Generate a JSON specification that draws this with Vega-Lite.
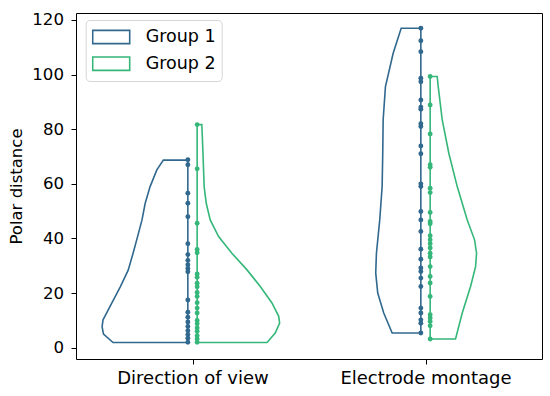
{
  "$schema": "https://vega.github.io/schema/vega-lite/v6.json",
  "width": 466,
  "height": 346,
  "autosize": {"type": "none"},
  "padding": {"left": 76, "top": 13, "right": 8, "bottom": 37},
  "background": "white",
  "config": {
    "font": "DejaVu Sans",
    "view": {"stroke": "#000000", "strokeWidth": 1},
    "axis": {"domain": false, "grid": false, "tickColor": "#000000", "tickSize": 5, "labelColor": "#000000", "labelPadding": 6, "titleColor": "#000000", "titleFontWeight": "normal"}
  },
  "datasets": {
    "outline": [
      {"v": "D1", "g": "Group 1", "o": 0, "x": -0.02, "y": 68.7},
      {"v": "D1", "g": "Group 1", "o": 1, "x": -0.125, "y": 68.7},
      {"v": "D1", "g": "Group 1", "o": 2, "x": -0.153, "y": 65.1},
      {"v": "D1", "g": "Group 1", "o": 3, "x": -0.182, "y": 59.0},
      {"v": "D1", "g": "Group 1", "o": 4, "x": -0.203, "y": 52.9},
      {"v": "D1", "g": "Group 1", "o": 5, "x": -0.217, "y": 46.7},
      {"v": "D1", "g": "Group 1", "o": 6, "x": -0.236, "y": 40.6},
      {"v": "D1", "g": "Group 1", "o": 7, "x": -0.255, "y": 34.6},
      {"v": "D1", "g": "Group 1", "o": 8, "x": -0.276, "y": 28.4},
      {"v": "D1", "g": "Group 1", "o": 9, "x": -0.310, "y": 22.3},
      {"v": "D1", "g": "Group 1", "o": 10, "x": -0.346, "y": 16.4},
      {"v": "D1", "g": "Group 1", "o": 11, "x": -0.370, "y": 12.5},
      {"v": "D1", "g": "Group 1", "o": 12, "x": -0.384, "y": 10.2},
      {"v": "D1", "g": "Group 1", "o": 13, "x": -0.388, "y": 7.7},
      {"v": "D1", "g": "Group 1", "o": 14, "x": -0.382, "y": 5.0},
      {"v": "D1", "g": "Group 1", "o": 15, "x": -0.341, "y": 1.9},
      {"v": "D1", "g": "Group 1", "o": 16, "x": -0.02, "y": 1.9},
      {"v": "D1", "g": "Group 1", "o": 17, "x": -0.02, "y": 68.7},
      {"v": "D2", "g": "Group 2", "o": 0, "x": 0.02, "y": 81.7},
      {"v": "D2", "g": "Group 2", "o": 1, "x": 0.040, "y": 81.7},
      {"v": "D2", "g": "Group 2", "o": 2, "x": 0.045, "y": 71.2},
      {"v": "D2", "g": "Group 2", "o": 3, "x": 0.050, "y": 59.0},
      {"v": "D2", "g": "Group 2", "o": 4, "x": 0.059, "y": 52.9},
      {"v": "D2", "g": "Group 2", "o": 5, "x": 0.076, "y": 46.8},
      {"v": "D2", "g": "Group 2", "o": 6, "x": 0.112, "y": 40.7},
      {"v": "D2", "g": "Group 2", "o": 7, "x": 0.169, "y": 34.6},
      {"v": "D2", "g": "Group 2", "o": 8, "x": 0.234, "y": 28.5},
      {"v": "D2", "g": "Group 2", "o": 9, "x": 0.291, "y": 22.4},
      {"v": "D2", "g": "Group 2", "o": 10, "x": 0.341, "y": 16.4},
      {"v": "D2", "g": "Group 2", "o": 11, "x": 0.370, "y": 11.5},
      {"v": "D2", "g": "Group 2", "o": 12, "x": 0.374, "y": 9.0},
      {"v": "D2", "g": "Group 2", "o": 13, "x": 0.355, "y": 5.4},
      {"v": "D2", "g": "Group 2", "o": 14, "x": 0.320, "y": 1.9},
      {"v": "D2", "g": "Group 2", "o": 15, "x": 0.02, "y": 1.9},
      {"v": "D2", "g": "Group 2", "o": 16, "x": 0.02, "y": 81.7},
      {"v": "E1", "g": "Group 1", "o": 0, "x": 0.98, "y": 117.0},
      {"v": "E1", "g": "Group 1", "o": 1, "x": 0.8956, "y": 117.0},
      {"v": "E1", "g": "Group 1", "o": 2, "x": 0.8612, "y": 107.8},
      {"v": "E1", "g": "Group 1", "o": 3, "x": 0.8281, "y": 95.6},
      {"v": "E1", "g": "Group 1", "o": 4, "x": 0.8182, "y": 83.4},
      {"v": "E1", "g": "Group 1", "o": 5, "x": 0.8165, "y": 71.2},
      {"v": "E1", "g": "Group 1", "o": 6, "x": 0.8139, "y": 59.0},
      {"v": "E1", "g": "Group 1", "o": 7, "x": 0.8036, "y": 46.8},
      {"v": "E1", "g": "Group 1", "o": 8, "x": 0.7894, "y": 34.6},
      {"v": "E1", "g": "Group 1", "o": 9, "x": 0.7864, "y": 27.3},
      {"v": "E1", "g": "Group 1", "o": 10, "x": 0.7950, "y": 20.0},
      {"v": "E1", "g": "Group 1", "o": 11, "x": 0.8208, "y": 12.7},
      {"v": "E1", "g": "Group 1", "o": 12, "x": 0.8569, "y": 5.4},
      {"v": "E1", "g": "Group 1", "o": 13, "x": 0.98, "y": 5.4},
      {"v": "E1", "g": "Group 1", "o": 14, "x": 0.98, "y": 117.0},
      {"v": "E2", "g": "Group 2", "o": 0, "x": 1.02, "y": 99.3},
      {"v": "E2", "g": "Group 2", "o": 1, "x": 1.0503, "y": 99.3},
      {"v": "E2", "g": "Group 2", "o": 2, "x": 1.0546, "y": 95.6},
      {"v": "E2", "g": "Group 2", "o": 3, "x": 1.0718, "y": 83.4},
      {"v": "E2", "g": "Group 2", "o": 4, "x": 1.1001, "y": 71.2},
      {"v": "E2", "g": "Group 2", "o": 5, "x": 1.1362, "y": 59.0},
      {"v": "E2", "g": "Group 2", "o": 6, "x": 1.1792, "y": 46.8},
      {"v": "E2", "g": "Group 2", "o": 7, "x": 1.2106, "y": 39.5},
      {"v": "E2", "g": "Group 2", "o": 8, "x": 1.2192, "y": 34.6},
      {"v": "E2", "g": "Group 2", "o": 9, "x": 1.2149, "y": 29.7},
      {"v": "E2", "g": "Group 2", "o": 10, "x": 1.1934, "y": 22.4},
      {"v": "E2", "g": "Group 2", "o": 11, "x": 1.1577, "y": 12.7},
      {"v": "E2", "g": "Group 2", "o": 12, "x": 1.1289, "y": 3.2},
      {"v": "E2", "g": "Group 2", "o": 13, "x": 1.02, "y": 3.2},
      {"v": "E2", "g": "Group 2", "o": 14, "x": 1.02, "y": 99.3}
    ],
    "points": [
      {"c": 0, "g": "Group 1", "y": 68.8}, {"c": 0, "g": "Group 1", "y": 67.0}, {"c": 0, "g": "Group 1", "y": 56.6}, {"c": 0, "g": "Group 1", "y": 52.9},
      {"c": 0, "g": "Group 1", "y": 48.0}, {"c": 0, "g": "Group 1", "y": 38.1}, {"c": 0, "g": "Group 1", "y": 34.1}, {"c": 0, "g": "Group 1", "y": 32.0},
      {"c": 0, "g": "Group 1", "y": 30.4}, {"c": 0, "g": "Group 1", "y": 29.0}, {"c": 0, "g": "Group 1", "y": 27.8}, {"c": 0, "g": "Group 1", "y": 17.5},
      {"c": 0, "g": "Group 1", "y": 13.0}, {"c": 0, "g": "Group 1", "y": 11.2}, {"c": 0, "g": "Group 1", "y": 9.4}, {"c": 0, "g": "Group 1", "y": 7.8},
      {"c": 0, "g": "Group 1", "y": 6.2}, {"c": 0, "g": "Group 1", "y": 4.8}, {"c": 0, "g": "Group 1", "y": 3.5}, {"c": 0, "g": "Group 1", "y": 2.0},
      {"c": 0, "g": "Group 2", "y": 81.7}, {"c": 0, "g": "Group 2", "y": 65.5}, {"c": 0, "g": "Group 2", "y": 45.6}, {"c": 0, "g": "Group 2", "y": 36.0},
      {"c": 0, "g": "Group 2", "y": 34.8}, {"c": 0, "g": "Group 2", "y": 27.0}, {"c": 0, "g": "Group 2", "y": 25.8}, {"c": 0, "g": "Group 2", "y": 23.6},
      {"c": 0, "g": "Group 2", "y": 22.3}, {"c": 0, "g": "Group 2", "y": 20.2}, {"c": 0, "g": "Group 2", "y": 18.8}, {"c": 0, "g": "Group 2", "y": 16.5},
      {"c": 0, "g": "Group 2", "y": 14.5}, {"c": 0, "g": "Group 2", "y": 12.7}, {"c": 0, "g": "Group 2", "y": 10.0}, {"c": 0, "g": "Group 2", "y": 8.8},
      {"c": 0, "g": "Group 2", "y": 7.2}, {"c": 0, "g": "Group 2", "y": 6.0}, {"c": 0, "g": "Group 2", "y": 4.4}, {"c": 0, "g": "Group 2", "y": 3.2},
      {"c": 0, "g": "Group 2", "y": 2.0},
      {"c": 1, "g": "Group 1", "y": 117.0}, {"c": 1, "g": "Group 1", "y": 112.4}, {"c": 1, "g": "Group 1", "y": 108.4}, {"c": 1, "g": "Group 1", "y": 98.7},
      {"c": 1, "g": "Group 1", "y": 97.4}, {"c": 1, "g": "Group 1", "y": 90.7}, {"c": 1, "g": "Group 1", "y": 88.1}, {"c": 1, "g": "Group 1", "y": 87.3},
      {"c": 1, "g": "Group 1", "y": 82.0}, {"c": 1, "g": "Group 1", "y": 81.0}, {"c": 1, "g": "Group 1", "y": 73.9}, {"c": 1, "g": "Group 1", "y": 71.0},
      {"c": 1, "g": "Group 1", "y": 60.0}, {"c": 1, "g": "Group 1", "y": 59.0}, {"c": 1, "g": "Group 1", "y": 49.9}, {"c": 1, "g": "Group 1", "y": 46.8},
      {"c": 1, "g": "Group 1", "y": 42.6}, {"c": 1, "g": "Group 1", "y": 36.1}, {"c": 1, "g": "Group 1", "y": 32.4}, {"c": 1, "g": "Group 1", "y": 29.2},
      {"c": 1, "g": "Group 1", "y": 27.9}, {"c": 1, "g": "Group 1", "y": 25.5}, {"c": 1, "g": "Group 1", "y": 22.4}, {"c": 1, "g": "Group 1", "y": 14.5},
      {"c": 1, "g": "Group 1", "y": 12.7}, {"c": 1, "g": "Group 1", "y": 10.2}, {"c": 1, "g": "Group 1", "y": 9.0}, {"c": 1, "g": "Group 1", "y": 5.4},
      {"c": 1, "g": "Group 2", "y": 99.3}, {"c": 1, "g": "Group 2", "y": 88.9}, {"c": 1, "g": "Group 2", "y": 78.3}, {"c": 1, "g": "Group 2", "y": 67.0},
      {"c": 1, "g": "Group 2", "y": 66.1}, {"c": 1, "g": "Group 2", "y": 58.4}, {"c": 1, "g": "Group 2", "y": 56.8}, {"c": 1, "g": "Group 2", "y": 49.5},
      {"c": 1, "g": "Group 2", "y": 46.2}, {"c": 1, "g": "Group 2", "y": 45.4}, {"c": 1, "g": "Group 2", "y": 41.0}, {"c": 1, "g": "Group 2", "y": 39.5},
      {"c": 1, "g": "Group 2", "y": 38.1}, {"c": 1, "g": "Group 2", "y": 36.5}, {"c": 1, "g": "Group 2", "y": 34.6}, {"c": 1, "g": "Group 2", "y": 33.2},
      {"c": 1, "g": "Group 2", "y": 29.7}, {"c": 1, "g": "Group 2", "y": 26.1}, {"c": 1, "g": "Group 2", "y": 23.7}, {"c": 1, "g": "Group 2", "y": 18.8},
      {"c": 1, "g": "Group 2", "y": 12.1}, {"c": 1, "g": "Group 2", "y": 10.9}, {"c": 1, "g": "Group 2", "y": 9.6}, {"c": 1, "g": "Group 2", "y": 8.0},
      {"c": 1, "g": "Group 2", "y": 3.2}
    ]
  },
  "layer": [
    {
      "data": {"name": "outline"},
      "mark": {"type": "line", "strokeWidth": 1.6, "strokeJoin": "miter", "clip": true},
      "encoding": {
        "x": {"field": "x", "type": "quantitative", "scale": {"domain": [-0.5, 1.5], "nice": false, "zero": false},
              "axis": {"values": [0, 1], "title": null, "labelExpr": "datum.value == 0 ? 'Direction of view' : 'Electrode montage'", "labelFontSize": 18, "labelPadding": 5, "labelFlush": false, "labelOverlap": false}},
        "y": {"field": "y", "type": "quantitative", "scale": {"domain": [-4.13, 122.56], "nice": false, "zero": false},
              "axis": {"values": [0, 20, 40, 60, 80, 100, 120], "title": "Polar distance", "labelFontSize": 16.6, "labelPadding": 7.5, "titleFontSize": 16.5, "titlePadding": 7}},
        "color": {"field": "g", "type": "nominal", "scale": {"domain": ["Group 1", "Group 2"], "range": ["#31688e", "#35b779"]},
                  "legend": {"title": null, "orient": "none", "legendX": 9.7, "legendY": 7, "fillColor": "white", "strokeColor": "#d6d6d6", "cornerRadius": 4, "padding": 6,
                             "symbolType": "M-1,-0.36H1V0.36H-1Z", "symbolSize": 1369, "symbolStrokeWidth": 1.6, "symbolFillColor": "transparent",
                             "clipHeight": 22, "rowPadding": 4.7,
                             "labelFontSize": 17.5, "labelOffset": 15, "labelColor": "#000000",
                             "encode": {"symbols": {"update": {"fill": {"value": "transparent"}, "fillOpacity": {"value": 0}}}}}},
        "detail": {"field": "v", "type": "nominal"},
        "order": {"field": "o", "type": "quantitative"}
      }
    },
    {
      "data": {"name": "points"},
      "transform": [{"filter": "datum.g == 'Group 1'"}],
      "mark": {"type": "circle", "size": 24, "opacity": 1, "xOffset": -4.65, "color": "#31688e"},
      "encoding": {
        "x": {"field": "c", "type": "quantitative"},
        "y": {"field": "y", "type": "quantitative"}
      }
    },
    {
      "data": {"name": "points"},
      "transform": [{"filter": "datum.g == 'Group 2'"}],
      "mark": {"type": "circle", "size": 24, "opacity": 1, "xOffset": 4.65, "color": "#35b779"},
      "encoding": {
        "x": {"field": "c", "type": "quantitative"},
        "y": {"field": "y", "type": "quantitative"}
      }
    }
  ]
}
